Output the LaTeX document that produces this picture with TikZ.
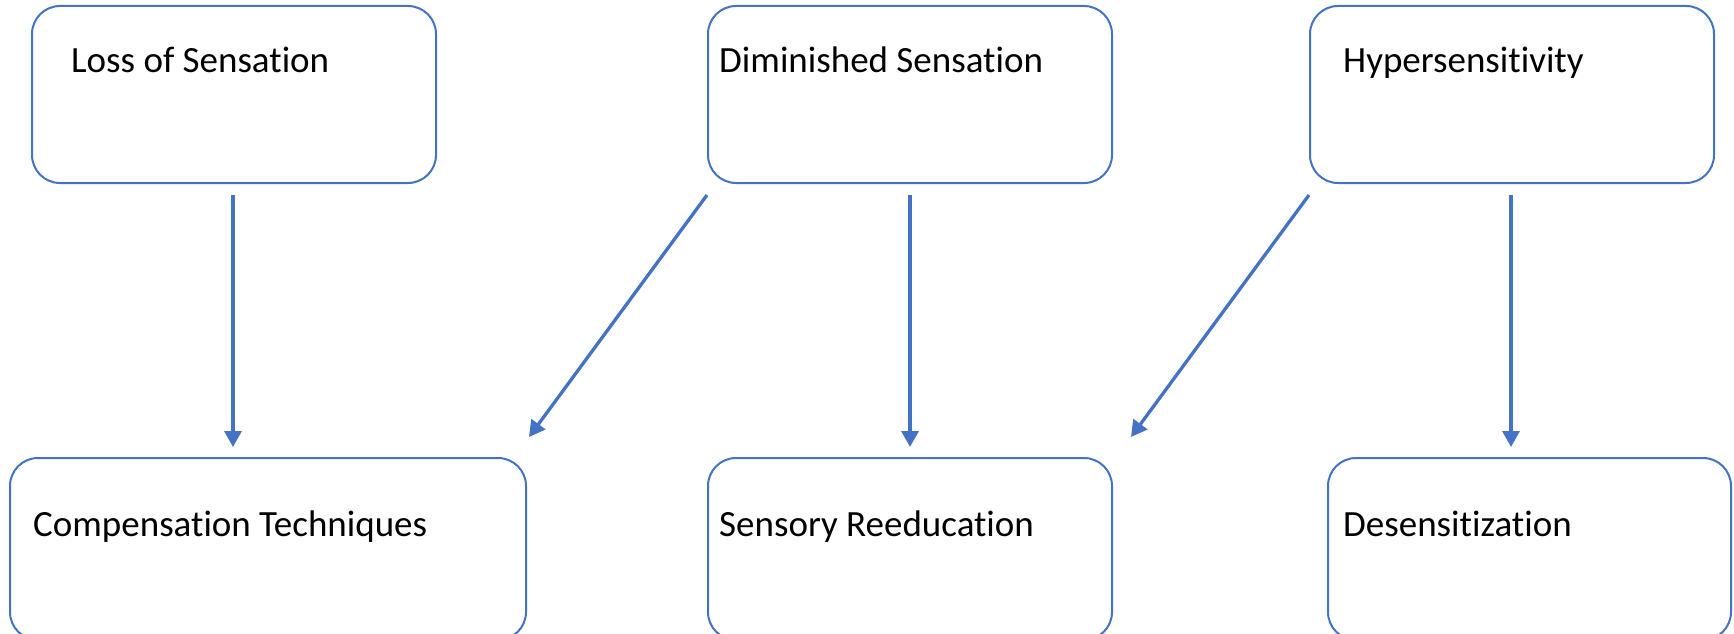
\documentclass[tikz,border=0pt]{standalone}
\usepackage{fontspec}
\setmainfont{Carlito}[Ligatures={NoCommon,NoRare,NoContextual}]
\usetikzlibrary{arrows.meta}
\definecolor{obl}{HTML}{4472C4}
\newcommand{\tiX}{t\kern0pt{}i}
\begin{document}
\begin{tikzpicture}[x=1pt,y=-1pt,
  box/.style={draw=obl,line width=2pt,rounded corners=28pt,rectangle,inner sep=0pt},
  lbl/.style={anchor=base west,inner sep=0pt,font=\fontsize{37}{44}\selectfont},
  arr/.style={draw=obl,line width=3.3pt,-{Triangle[length=16pt,width=17pt]}}]
\useasboundingbox (0,0) rectangle (1734,634);
\clip (0,0) rectangle (1734,634);
% top row
\node[box,minimum width=404pt,minimum height=177pt] (b1) at (234,94.5) {};
\node[box,minimum width=404pt,minimum height=177pt] (b2) at (910,94.5) {};
\node[box,minimum width=404pt,minimum height=177pt] (b3) at (1512,94.5) {};
% bottom row
\node[box,minimum width=516pt,minimum height=182pt] (b4) at (268,549) {};
\node[box,minimum width=404pt,minimum height=182pt] (b5) at (910,549) {};
\node[box,minimum width=403pt,minimum height=182pt] (b6) at (1529.5,549) {};
% labels
\node[lbl] (l1) at (71,73) {Loss of Sensa\tiX on};
\node[lbl] (l2) at (719,73) {Diminished Sensa\tiX on};
\node[lbl] (l3) at (1343,73) {Hypersensi\tiX vity};
\node[lbl] (l4) at (33,536) {Compensa\tiX on Techniques};
\node[lbl] (l5) at (719,536) {Sensory Reeduca\tiX on};
\node[lbl] (l6) at (1343,536) {Desensi\tiX za\tiX on};
% connectors
\coordinate (s1) at ([xshift=-1pt,yshift=-11pt]b1.south);
\coordinate (t1) at (s1 |- b4.north);
\draw[arr] (s1) -- ([yshift=10pt]t1);
\coordinate (s3) at ([yshift=-11pt]b2.south);
\coordinate (t3) at (s3 |- b5.north);
\draw[arr] (s3) -- ([yshift=10pt]t3);
\coordinate (s5) at ([xshift=-1pt,yshift=-11pt]b3.south);
\coordinate (t5) at (s5 |- b6.north);
\draw[arr] (s5) -- ([yshift=10pt]t5);
\draw[arr] ([yshift=-11pt]b2.south west) -- ([xshift=2pt,yshift=20pt]b4.north east);
\draw[arr] ([yshift=-11pt]b3.south west) -- ([xshift=18pt,yshift=20pt]b5.north east);
\end{tikzpicture}
\end{document}
